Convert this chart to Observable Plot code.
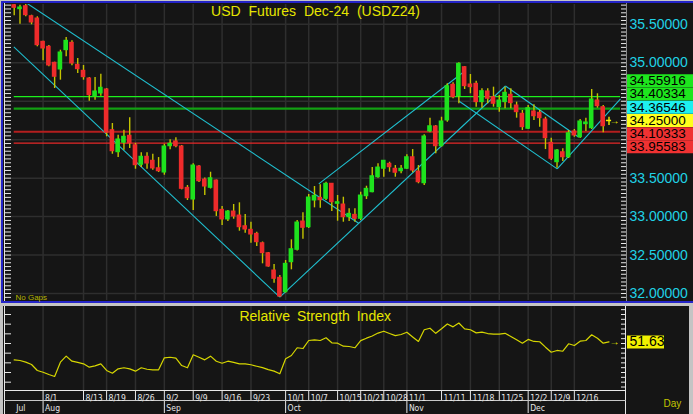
<!DOCTYPE html>
<html><head><meta charset="utf-8">
<script src="https://cdn.jsdelivr.net/npm/d3@7"></script>
<script src="https://cdn.jsdelivr.net/npm/@observablehq/plot@0.6"></script>
<style>
html,body{margin:0;padding:0;background:#c4c4c4;overflow:hidden}
#wrap{position:relative;width:693px;height:414px;overflow:hidden;background:#c4c4c4}
#wrap div{position:absolute}
#wrap svg{display:block}
</style></head><body>
<div id="wrap">
<div style="left:1px;top:1px;width:720px;height:302px;box-sizing:border-box;border:2px solid #2424c8;border-right:none;background:#151515"></div>
<div style="left:4px;top:3px;width:1px;height:298px;background:#e8e8e8"></div>
<div style="left:626px;top:3px;width:1px;height:298px;background:#8a8a8a"></div>
<div style="left:3px;top:306px;width:686px;height:108px;background:#151515"></div>
<div style="left:4px;top:306px;width:1px;height:108px;background:#e8e8e8"></div>
<div style="left:625px;top:306px;width:1px;height:108px;background:#e8e8e8"></div>
<div style="left:4px;top:390px;width:622px;height:1px;background:#e8e8e8"></div>
<div style="left:4px;top:400px;width:622px;height:1px;background:#c8c8c8"></div>
<div id="top" style="left:0;top:0"></div>
<div id="bot" style="left:0;top:303px"></div>
</div>
<script>
const opens = [35.749,35.697,35.736,35.606,35.576,35.273,35.208,35.000,34.913,35.164,
35.260,34.974,34.896,34.796,34.558,34.601,34.653,34.124,33.837,33.960,
34.051,33.928,33.674,33.778,33.726,33.629,33.573,33.915,33.977,33.912,
33.374,33.222,33.651,33.482,33.374,33.469,33.088,32.963,33.066,33.014,
32.875,32.828,32.776,32.654,32.524,32.299,32.204,32.017,32.407,32.568,
32.936,32.862,33.209,33.244,33.231,33.427,33.166,33.157,32.992,33.023,
32.971,33.265,33.317,33.512,33.622,33.686,33.622,33.590,33.622,33.772,
33.586,33.434,34.107,34.172,33.915,34.250,34.714,34.566,34.943,34.718,
34.727,34.488,34.627,34.553,34.423,34.488,34.584,34.445,34.337,34.142,
34.367,34.350,34.263,33.960,33.707,33.837,33.772,34.107,34.032,34.202,
34.149,34.510,34.423,34.250];
const highs = [35.758,35.749,35.758,35.619,35.598,35.281,35.225,35.008,35.164,35.329,
35.286,35.056,34.965,34.809,34.809,34.852,34.666,34.211,34.058,34.124,
34.285,33.951,33.830,33.830,33.811,33.768,33.941,33.999,34.025,33.925,
33.404,33.686,33.664,33.502,33.577,33.476,33.131,33.079,33.157,33.179,
33.027,32.927,32.797,32.670,32.533,32.377,32.234,32.429,32.698,32.949,
33.049,33.287,33.391,33.413,33.447,33.431,33.274,33.252,33.101,33.101,
33.317,33.395,33.638,33.686,33.729,33.707,33.664,33.664,33.803,33.872,
33.664,34.064,34.280,34.185,34.292,34.727,34.740,35.000,34.952,34.848,
34.761,34.662,34.662,34.683,34.575,34.683,34.662,34.488,34.380,34.445,
34.454,34.380,34.292,34.019,33.872,33.881,34.120,34.133,34.263,34.280,
34.653,34.597,34.445,34.292];
const lows = [35.611,35.502,35.598,35.494,35.208,35.026,34.948,34.666,34.774,35.078,
34.961,34.861,34.774,34.501,34.514,34.566,34.038,33.811,33.768,33.863,
33.886,33.616,33.638,33.616,33.603,33.573,33.538,33.869,33.895,33.348,
33.209,33.079,33.443,33.274,33.359,33.002,32.885,32.936,32.966,32.810,
32.784,32.654,32.611,32.386,32.342,32.134,31.952,32.006,32.308,32.553,
32.706,32.845,33.114,33.109,33.209,33.066,32.940,32.927,32.936,32.927,
32.949,33.222,33.309,33.499,33.512,33.577,33.512,33.557,33.612,33.570,
33.427,33.404,34.090,33.817,33.905,34.227,34.532,34.467,34.653,34.597,
34.423,34.410,34.467,34.423,34.357,34.402,34.402,34.280,34.120,34.133,
34.250,34.163,33.872,33.729,33.629,33.716,33.756,34.032,34.016,34.107,
34.133,34.410,34.090,34.185];
const closes = [35.715,35.719,35.619,35.524,35.229,35.186,34.965,34.818,35.134,35.286,
34.991,34.917,34.813,34.579,34.627,34.675,34.090,33.850,34.003,34.038,
33.951,33.668,33.778,33.690,33.626,33.590,33.912,33.947,33.915,33.361,
33.239,33.664,33.460,33.391,33.499,33.070,32.963,33.066,33.001,32.862,
32.832,32.767,32.667,32.524,32.351,32.191,31.961,32.386,32.576,32.923,
32.854,33.248,33.270,33.213,33.427,33.187,33.187,32.992,33.036,32.971,
33.274,33.361,33.525,33.638,33.726,33.642,33.570,33.622,33.772,33.599,
33.447,34.042,34.175,33.915,34.237,34.696,34.553,34.987,34.696,34.683,
34.488,34.631,34.532,34.467,34.510,34.610,34.475,34.358,34.163,34.410,
34.305,34.280,34.019,33.752,33.860,33.772,34.084,34.055,34.237,34.224,
34.523,34.436,34.175,34.250];
const rsi = [33.1,32.4,30.7,28.3,22.1,20.3,17.9,15.9,30.7,36.9,
31.7,30.4,29.0,25.5,26.9,29.0,22.1,19.3,23.8,24.9,
23.8,21.4,24.9,23.4,22.8,22.8,35.2,35.8,34.8,27.2,
24.9,38.3,35.8,33.1,36.9,31.7,29.6,31.7,30.4,29.0,
29.0,28.0,26.5,25.0,23.0,21.4,18.7,34.2,37.6,45.6,
44.8,53.1,53.8,53.1,55.9,50.7,50.3,47.2,46.9,45.6,
53.0,55.5,57.8,60.8,62.7,60.3,58.2,59.3,61.7,56.8,
52.1,64.2,65.8,60.5,65.2,70.2,67.2,71.2,65.2,64.2,
61.0,61.8,60.3,59.7,59.6,60.5,57.3,53.8,50.3,54.2,
52.1,51.8,46.2,41.0,42.8,42.0,49.7,47.9,52.4,53.1,
59.0,55.5,50.3,51.63];
const dateTickIdx = [5,12,16,21,26,31,36,41,47,51,56,60,64,68,74,79,84,89,93,97];
const dateTickLabels = ["8/1","8/13","8/19","8/26","9/2","9/9","9/16","9/23","10/1","10/7","10/15","10/21","10/28","11/1","11/11","11/18","11/25","12/2","12/9","12/16"];
const monthIdx = [0,5,26,47,68,89];
const monthLabels = ["Jul","Aug","Sep","Oct","Nov","Dec"];
const priceTicks = [32,32.5,33,33.5,34,34.5,35,35.5];
const levelValues = [34.55916,34.40334,34.36546,34.25,34.10333,33.95583];
const levelColors = ["#1ee61e","#1ee61e","#1ef0f0","#ffff1e","#f03232","#f03232"];
const lineLevels = [34.55916,34.40334,34.10333,33.95583];
const lineColors = ["#1cf01c","#12a012","#b41e1e","#e62828"];
const lineWidths = [1.3,2.3,2.2,1.3];
const trendX1 = [2.25,-0.07,45.99,52.74,76.99,85.07,94.03];
const trendY1 = [35.771,35.208,31.952,33.426,34.503,34.698,33.621];
const trendX2 = [59.71,45.99,85.07,78.15,94.03,97.77,104.99];
const trendY2 = [32.910,31.952,34.698,34.900,33.621,34.032,34.532];
const lastPrice = 34.25;
const rsiLast = 51.63;
const titleText = "USD Futures Dec-24 (USDZ24)";
const rsiTitle = "Relative Strength Index";

const N = closes.length;
const bars = closes.map((c,i)=>({i, o:opens[i], h:highs[i], l:lows[i], c, last: i===N-1}));
const UP="#1ee21e", DN="#ee2b2b", WICK="#c4c400", YEL="#f0f000";
const FONT = "'Liberation Sans', Arial, sans-serif";
const NARROW = "'Liberation Sans Narrow', 'DejaVu Sans Condensed', 'Liberation Sans', sans-serif";
const W=693, ML=11, MR=67;
const xDom=[-0.47, 106.03];
const TH=302, TMT=4, TMB=2;
const yDom=[31.909, 35.758];
const perPx=(yDom[1]-yDom[0])/(TH-TMT-TMB);
const boxH=13.2*perPx;
const frameW = W-ML-MR;

const labs = levelValues.map((v,k)=>({v, color: levelColors[k], txt: v.toFixed(5)})).sort((a,b)=>b.v-a.v);
const ai = labs.findIndex(d=>d.v===lastPrice);
labs[ai].pos = lastPrice;
for (let k=ai-1;k>=0;k--) labs[k].pos=Math.max(labs[k].v, labs[k+1].pos+boxH);
for (let k=ai+1;k<labs.length;k++) labs[k].pos=Math.min(labs[k].v, labs[k-1].pos-boxH);
const boxTop = d3.max(labs, d=>d.pos) + boxH*0.6, boxBot = d3.min(labs, d=>d.pos) - boxH*0.6;
const shownTicks = priceTicks.filter(v => v > boxTop || v < boxBot);

const minorTop = d3.range(Math.ceil(yDom[0]/0.05), Math.floor(yDom[1]/0.05)+1).map(k=>+(k*0.05).toFixed(2));

const topPlot = Plot.plot({
  width: W, height: TH, marginLeft: ML, marginRight: MR, marginTop: TMT, marginBottom: TMB,
  x: {domain: xDom, axis: null},
  y: {domain: yDom},
  color: {type: "identity"},
  style: {background: "transparent", color: "#e8e8e8", fontFamily: FONT, overflow: "visible"},
  marks: [
    Plot.ruleY(priceTicks, {stroke: "#2e2e2e", strokeWidth: 1.5}),
    Plot.ruleX(dateTickIdx, {stroke: "#2e2e2e", strokeWidth: 1.5}),
    Plot.ruleY(lineLevels, {y: d=>d, x1: 0, x2: N+1, stroke: (d,k)=>lineColors[k], strokeWidth: (d,k)=>lineWidths[k]}),
    Plot.link(trendX1, {x1: (d,k)=>trendX1[k], y1: (d,k)=>trendY1[k], x2: (d,k)=>trendX2[k], y2: (d,k)=>trendY2[k], stroke: "#1fbfcf", strokeWidth: 1.1, clip: true}),
    Plot.ruleX(bars, {x: "i", y1: "l", y2: "h", stroke: d=>d.last ? YEL : WICK, strokeWidth: 1.4, clip: true}),
    Plot.rect(bars.filter(d=>!d.last), {x1: d=>d.i-0.4, x2: d=>d.i+0.4, y1: d=>Math.min(d.o,d.c), y2: d=>Math.max(d.o,d.c), fill: d=>d.c>=d.o ? UP : DN, insetTop: -0.5, insetBottom: -0.5, clip: true}),
    Plot.ruleY(bars.filter(d=>d.last), {y: "c", x1: d=>d.i-0.45, x2: d=>d.i+0.45, stroke: YEL, strokeWidth: 1.5}),
    Plot.axisY(minorTop, {anchor: "left", tickSize: 6, tickFormat: ()=>"", stroke: "#e8e8e8"}),
    Plot.ruleY(minorTop, {stroke: "#e8e8e8", insetLeft: frameW-5}),
    Plot.axisY(shownTicks, {anchor: "right", tickSize: 0, tickPadding: 3, tickFormat: d=>d.toFixed(5), fill: "#20d2e6", fontSize: 14}),
    Plot.ruleY(labs, {y: "pos", stroke: "color", strokeWidth: 13, insetLeft: frameW+1, insetRight: -(MR+2)}),
    Plot.text(labs, {y: "pos", text: "txt", frameAnchor: "right", dx: 3, textAnchor: "start", fill: "#000", fontSize: 13.5}),
    Plot.text([lastPrice], {y: d=>d, text: ()=>"→", frameAnchor: "right", dx: -7, fill: YEL, fontSize: 10}),
    Plot.text([titleText], {text: d=>d, frameAnchor: "top", dx: -3.5, dy: 7.5, lineAnchor: "middle", fill: "#e6e600", fontSize: 14}),
    Plot.text(["No Gaps"], {text: d=>d, frameAnchor: "bottom-left", dx: 4, dy: -1, lineAnchor: "bottom", textAnchor: "start", fill: "#b4b400", fontSize: 8})
  ]
});
document.getElementById("top").appendChild(topPlot);

const BH=111, BMT=3, BMB=24;
const rsiDom=[1.4, 88.26];
const BFH = BH-BMT-BMB;
const botPlot = Plot.plot({
  width: W, height: BH, marginLeft: ML, marginRight: MR, marginTop: BMT, marginBottom: BMB,
  x: {domain: xDom, axis: null},
  y: {domain: rsiDom},
  style: {background: "transparent", color: "#e8e8e8", fontFamily: FONT, overflow: "visible"},
  marks: [
    Plot.ruleX(dateTickIdx, {stroke: "#2e2e2e", strokeWidth: 1.5}),
    Plot.line(rsi, {x: (d,i)=>i, y: d=>d, stroke: "#d6d600", strokeWidth: 1.2}),
    Plot.axisY(d3.range(10,90,10), {anchor: "left", tickSize: 6, tickFormat: ()=>"", stroke: "#e8e8e8"}),
    Plot.ruleY(d3.range(5,90,5), {stroke: "#e8e8e8", insetLeft: frameW-5}),
    Plot.text([rsiTitle], {text: d=>d, frameAnchor: "top", dx: -3.8, dy: 10, lineAnchor: "middle", fill: "#e6e600", fontSize: 14}),
    Plot.ruleY([rsiLast], {y: d=>d, stroke: YEL, strokeWidth: 13, insetLeft: frameW+1, insetRight: -38}),
    Plot.text([rsiLast], {y: d=>d, text: d=>d.toFixed(2), frameAnchor: "right", dx: 3, textAnchor: "start", fill: "#000", fontSize: 14}),
    Plot.text([rsiLast], {y: d=>d, text: ()=>"→", frameAnchor: "right", dx: -7, fill: YEL, fontSize: 10}),
    Plot.ruleX(dateTickIdx, {stroke: "#e8e8e8", insetTop: BFH+1, insetBottom: -10}),
    Plot.ruleX(monthIdx.filter(d=>d>0), {stroke: "#e8e8e8", insetTop: BFH+11, insetBottom: -23}),
    Plot.text(dateTickLabels, {x: (d,i)=>dateTickIdx[i], text: d=>d, frameAnchor: "bottom", dx: 2, dy: 10, textAnchor: "start", lineAnchor: "bottom", fill: "#e6e6e6", fontSize: 8.5, fontFamily: NARROW}),
    Plot.text(monthLabels, {x: (d,i)=>monthIdx[i], text: d=>d, frameAnchor: "bottom", dx: 2, dy: 20, textAnchor: "start", lineAnchor: "bottom", fill: "#e6e6e6", fontSize: 8.5, fontFamily: NARROW}),
    Plot.text(["Day"], {text: d=>d, frameAnchor: "bottom-right", dx: 37, dy: 16, textAnchor: "start", lineAnchor: "bottom", fill: "#c4c400", fontSize: 10})
  ]
});
document.getElementById("bot").appendChild(botPlot);

for (const t of document.querySelectorAll("svg text")) {
  if (t.textContent === titleText) t.setAttribute("word-spacing", "4");
  if (t.textContent === rsiTitle) t.setAttribute("word-spacing", "3");
}
</script>
</body></html>
